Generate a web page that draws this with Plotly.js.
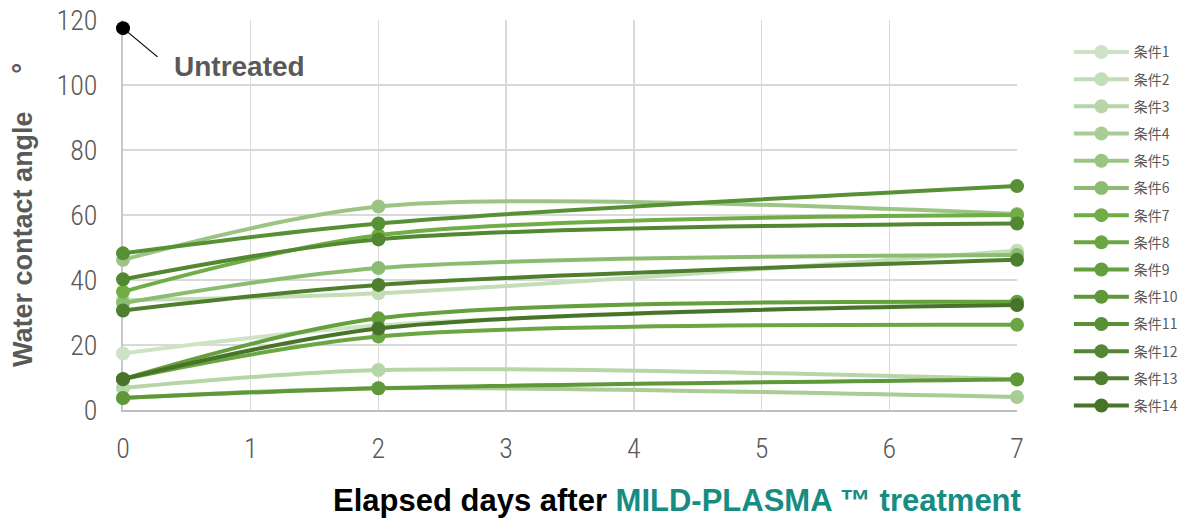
<!DOCTYPE html>
<html>
<head>
<meta charset="utf-8">
<script src="https://cdn.plot.ly/plotly-3.0.1.min.js"></script>
<style>html,body{margin:0;padding:0;background:#fff;}#chart{width:1185px;height:519px;}</style>
</head>
<body>
<div id="chart"></div>
<script>
// Data
const days = [0, 2, 7];
const seriesNames = ["条件1","条件2","条件3","条件4","条件5","条件6","条件7","条件8","条件9","条件10","条件11","条件12","条件13","条件14"];
const cond1  = [17.4, 26.0, 33.0];
const cond2  = [33.8, 35.9, 49.0];
const cond3  = [6.8, 12.3, 9.5];
const cond4  = [3.7, 6.7, 4.0];
const cond5  = [46.2, 62.6, 60.3];
const cond6  = [32.9, 43.7, 47.7];
const cond7  = [36.4, 53.8, 60.0];
const cond8  = [9.5, 22.6, 26.2];
const cond9  = [9.5, 28.2, 33.3];
const cond10 = [3.7, 6.7, 9.4];
const cond11 = [48.2, 57.4, 68.9];
const cond12 = [40.2, 52.5, 57.4];
const cond13 = [30.6, 38.5, 46.2];
const cond14 = [9.5, 25.1, 32.3];
const untreatedDay = [0];
const untreatedValue = [117.5];
const xTicks = [0, 1, 2, 3, 4, 5, 6, 7];
const yTicks = [0, 20, 40, 60, 80, 100, 120];

const seriesValues = [cond1, cond2, cond3, cond4, cond5, cond6, cond7, cond8, cond9, cond10, cond11, cond12, cond13, cond14];
const colors = ["#cde3c3","#c3ddb6","#b7d6a7","#a9cd95","#9cc585","#8cbc71","#70ad47","#6aa742","#64a03d","#5e9839","#589035","#538731","#4e7e2e","#48742a"];

const traces = seriesValues.map((vals, i) => ({
  type: 'scatter',
  mode: 'lines+markers',
  x: days,
  y: vals,
  name: seriesNames[i],
  legendgroup: 'g' + i,
  line: {color: colors[i], width: 4, shape: 'spline', smoothing: 0.85},
  marker: {color: colors[i], size: 14},
  cliponaxis: false
}));

traces.push({
  type: 'scatter',
  mode: 'markers',
  x: untreatedDay,
  y: untreatedValue,
  name: 'Untreated',
  showlegend: false,
  marker: {color: '#000000', size: 14},
  cliponaxis: false
});

const tickFont = {family: 'Roboto Condensed, Liberation Sans Narrow, sans-serif', size: 28, color: '#595959', weight: 300};

const layout = {
  width: 1185,
  height: 519,
  margin: {l: 123, r: 168, t: 20, b: 109},
  paper_bgcolor: '#ffffff',
  plot_bgcolor: '#ffffff',
  showlegend: true,
  legend: {
    xref: 'container', yref: 'container',
    x: 0.902, y: 0.93, xanchor: 'left', yanchor: 'top',
    font: {family: 'Noto Sans CJK JP, sans-serif', size: 14, color: '#595959'},
    itemwidth: 55,
    tracegroupgap: 6,
    maxheight: 480,
    bgcolor: 'rgba(0,0,0,0)'
  },
  xaxis: {
    range: [0, 7],
    tickvals: xTicks,
    ticktext: xTicks.map(String),
    showgrid: true, gridcolor: '#d9d9d9', gridwidth: 1.5,
    zeroline: false,
    showline: true, linecolor: '#bfbfbf', linewidth: 2,
    layer: 'below traces',
    ticks: '',
    ticklabelstandoff: 12,
    tickfont: tickFont,
    fixedrange: true
  },
  yaxis: {
    range: [0, 120],
    tickvals: yTicks,
    ticktext: yTicks.map(String),
    showgrid: true, gridcolor: '#d9d9d9', gridwidth: 1.5,
    zeroline: false,
    showline: true, linecolor: '#c8c8c8', linewidth: 2,
    layer: 'below traces',
    ticks: '',
    ticklabelstandoff: 18,
    tickfont: tickFont,
    title: {
      text: 'Water contact angle\u00a0\u00a0\u00a0\u00a0\u00a0°',
      font: {family: 'Liberation Sans, Arial, sans-serif', size: 27, color: '#595959', weight: 'bold'},
      standoff: 16
    },
    fixedrange: true
  },
  annotations: [
    {
      x: 0, y: 117.5, xref: 'x', yref: 'y',
      text: '', showarrow: true, arrowhead: 0, arrowwidth: 1.2, arrowcolor: '#000000',
      ax: 36, ay: 30, standoff: 0
    },
    {
      x: 0, y: 117.5, xref: 'x', yref: 'y',
      text: '<b>Untreated</b>', showarrow: false,
      xanchor: 'left', yanchor: 'middle', xshift: 49, yshift: -38,
      font: {family: 'Liberation Sans Narrow, Arial Narrow, sans-serif', size: 28, color: '#595959'}
    },
    {
      xref: 'paper', yref: 'paper',
      x: (677 - 123) / 894, y: (410 - 500) / 390,
      xanchor: 'center', yanchor: 'middle', showarrow: false,
      text: '<b>Elapsed days after <span style="color:#168c82">MILD-PLASMA ™ treatment</span></b>',
      font: {family: 'Liberation Sans Narrow, Arial Narrow, sans-serif', size: 31, color: '#000000'}
    }
  ]
};

Plotly.newPlot('chart', traces, layout, {displayModeBar: false, staticPlot: true});
</script>
</body>
</html>
